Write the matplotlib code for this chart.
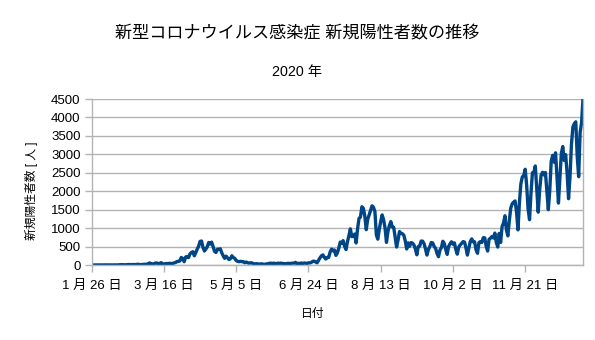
import matplotlib
matplotlib.use("Agg")
import matplotlib.pyplot as plt
import numpy as np
import pandas as pd

plt.rcParams['font.family'] = ['Liberation Sans', 'Noto Sans CJK JP', 'DejaVu Sans']

start_date = "2020-01-26"
jan = [0, 1, 2, 3, 3, 2]
feb = [1, 0, 1, 3, 1, 2, 3, 1, 2, 1, 4, 1, 3, 5, 8, 10, 6, 5, 7, 8, 14, 7, 13, 12, 10, 14, 21, 12, 11]
mar = [14, 19, 21, 13, 33, 55, 40, 28, 26, 52, 56, 36, 41, 64, 34, 24, 36, 39, 45, 45,
       42, 39, 57, 65, 96, 97, 110, 205, 170, 90, 215]
apr = [230, 200, 300, 340, 360, 250, 330, 430, 510, 640, 650, 480, 380, 430, 500, 610,
       570, 620, 500, 370, 340, 430, 420, 440, 330, 250, 180, 240, 190, 150]
may = [170, 250, 200, 180, 120, 100, 90, 100, 90, 90, 60, 80, 60, 50, 60, 55, 30, 30, 35, 30,
       25, 30, 30, 20, 20, 30, 35, 45, 50, 40, 50]
jun = [40, 40, 50, 45, 50, 40, 40, 30, 40, 45, 40, 45, 50, 50, 70, 40, 45, 40, 55, 35,
       55, 50, 40, 60, 55, 70, 100, 105, 80, 60]
jul = [126, 194, 249, 274, 206, 162, 204, 205, 353, 430, 385, 406, 261, 327, 457, 622,
       594, 660, 509, 419, 631, 795, 981, 770, 779, 839, 597, 982, 1264, 1300, 1580]
aug = [1536, 1331, 958, 1236, 1355, 1485, 1605, 1565, 1446, 813, 700, 967, 1177, 1358,
       1227, 1010, 612, 907, 1070, 1176, 1033, 1019, 750, 487, 676, 906, 858, 848, 808, 653, 434]
sep = [600, 507, 608, 593, 544, 434, 276, 500, 513, 650, 646, 578, 438, 269, 418, 501,
       610, 597, 501, 451, 311, 226, 403, 473, 643, 585, 421, 287, 504, 574]
oct_ = [630, 564, 600, 422, 294, 485, 543, 585, 634, 621, 466, 268, 460, 636, 707, 627,
        627, 407, 317, 606, 635, 611, 740, 737, 506, 378, 697, 727, 773, 731, 865]
nov = [613, 487, 857, 612, 1044, 1138, 1335, 955, 789, 1200, 1541, 1660, 1704, 1737, 1440,
       952, 1693, 2201, 2388, 2424, 2596, 2168, 1519, 1228, 1945, 2501, 2507, 2684, 2064, 1433]
dec = [2031, 2432, 2514, 2439, 2508, 2020, 1500, 2024, 2811, 2971, 2788, 3041, 2388, 1679,
       2376, 3026, 3211, 2833, 2992, 2494, 1797, 2391, 3269, 3740, 3833, 3881, 2947, 2395,
       3594, 3852, 4520]

cases = jan + feb + mar + apr + may + jun + jul + aug + sep + oct_ + nov + dec
dates = pd.date_range(start_date, periods=len(cases), freq="D")

tick_dates = ["2020-01-26", "2020-03-16", "2020-05-05", "2020-06-24",
              "2020-08-13", "2020-10-02", "2020-11-21"]
tick_labels = ["1 月 26 日", "3 月 16 日", "5 月 5 日", "6 月 24 日",
               "8 月 13 日", "10 月 2 日", "11 月 21 日"]
y_ticks = list(range(0, 4501, 500))

fig = plt.figure(figsize=(5.95, 3.40), dpi=100)
ax = fig.add_axes([91.7 / 595, 1 - 265 / 340, (583 - 91.7) / 595, (265 - 99) / 340])

ax.plot(dates, cases, color="#004586", linewidth=2.4, solid_joinstyle="round")

ax.set_xlim(dates[0], dates[-1])
ax.set_ylim(0, 4500)
ax.set_yticks(y_ticks)
ax.set_yticklabels([str(v) for v in y_ticks])
ax.set_xticks(pd.to_datetime(tick_dates))
ax.set_xticklabels(tick_labels)

ax.grid(axis="y", color="#b3b3b3", linewidth=1.0)
ax.set_axisbelow(True)
for side in ["left", "right", "bottom"]:
    ax.spines[side].set_color("#b3b3b3")
    ax.spines[side].set_linewidth(1.0)
ax.spines["top"].set_visible(False)
ax.tick_params(axis="both", colors="#b3b3b3", labelcolor="black", labelsize=9.5,
               length=5, width=1.0)
ax.tick_params(axis="x", pad=6)
ax.tick_params(axis="y", pad=3)

fig.text(0.5, 1 - 33 / 340, "新型コロナウイルス感染症 新規陽性者数の推移",
         ha="center", va="center", fontsize=12.3)
fig.text(0.5, 1 - 72 / 340, "2020 年", ha="center", va="center", fontsize=10.3)
fig.text(31.5 / 595, 1 - 191 / 340, "新規陽性者数 [ 人 ]", ha="center", va="center",
         rotation=90, fontsize=8.5)
fig.text(313 / 595, 1 - 314 / 340, "日付", ha="center", va="center", fontsize=8.5)

fig.savefig("out.png", dpi=100)
